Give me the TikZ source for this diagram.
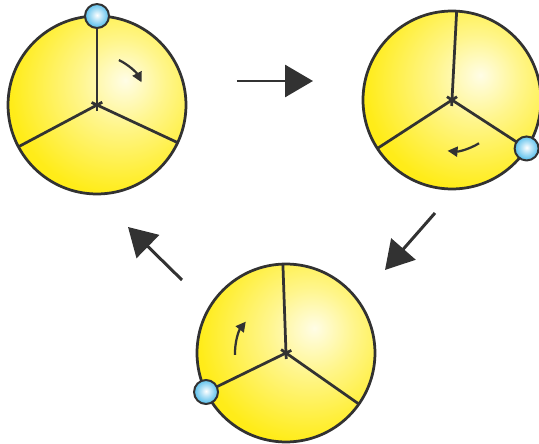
\documentclass[tikz,border=0pt]{standalone}
\usetikzlibrary{arrows.meta,calc}
\definecolor{discyellow}{RGB}{255,234,0}
\definecolor{ballblue}{RGB}{55,178,232}
\definecolor{inkgray}{RGB}{50,50,50}
\pgfdeclareradialshading{discglow}{\pgfpoint{8bp}{7bp}}{color(0bp)=(discyellow!10!white); color(12bp)=(discyellow!45!white); color(30bp)=(discyellow!90!white); color(46bp)=(discyellow); color(100bp)=(discyellow)}
\pgfdeclareradialshading{ballglow}{\pgfpoint{0bp}{2bp}}{color(0bp)=(white); color(10bp)=(ballblue!35!white); color(30bp)=(ballblue); color(50bp)=(ballblue!85!black); color(100bp)=(ballblue!85!black)}

\begin{document}
\begin{tikzpicture}[x=0.02cm,y=0.02cm,
    disc/.style={circle,draw=inkgray,line width=0.055cm,shading=discglow,minimum size=3.56cm,inner sep=0pt,outer sep=0pt},
    spoke/.style={draw=inkgray,line width=0.055cm},
    ball/.style={circle,draw=inkgray,line width=0.04cm,shading=ballglow,minimum size=0.48cm,inner sep=0pt},
    turn/.style={draw=inkgray,line width=0.045cm,-{Triangle[length=0.2cm,width=0.2cm]}},
    step arrow/.style={draw=inkgray,line width=0.06cm,-{Triangle[length=0.56cm,width=0.64cm]}}]
  \useasboundingbox (0,0) rectangle (539,444);
  % three discs
  \node[disc] (w1) at (97,339) {};
  \node[disc] (w2) at (452,344) {};
  \node[disc] (w3) at (286,91) {};
  % spokes, a little past the hub
  \foreach \w/\a/\b/\c in {w1/90/208/335, w2/87/213/327, w3/92/206/325} {
    \draw[spoke] ($(\w)+(\a+180:6)$) -- (\w.\a);
    \draw[spoke] ($(\w)+(\b+180:6)$) -- (\w.\b);
    \draw[spoke] ($(\w)+(\c+180:6)$) -- (\w.\c);
  }
  % balls on the rim
  \node[ball] (b1) at (w1.90) {};
  \node[ball] (b2) at (w2.327) {};
  \node[ball] (b3) at (w3.206) {};
  % turning arrows
  \draw[turn] ($(w1)+(64:50)$) arc[start angle=64,end angle=27,radius=1cm];
  \draw[turn] ($(w2)+(-58:51)$) arc[start angle=-58,end angle=-95,radius=1.02cm];
  \draw[turn] ($(w3)+(182:51)$) arc[start angle=182,end angle=142,radius=1.02cm];
  % arrows between the discs
  \coordinate (s1) at (237,363); \coordinate (e1) at (313,363);
  \coordinate (s2) at (435,231); \coordinate (e2) at (385,174);
  \coordinate (s3) at (182,164); \coordinate (e3) at (128,217);
  \draw[step arrow] (s1) -- (e1);
  \draw[step arrow] (s2) -- (e2);
  \draw[step arrow] (s3) -- (e3);
\end{tikzpicture}
\end{document}
